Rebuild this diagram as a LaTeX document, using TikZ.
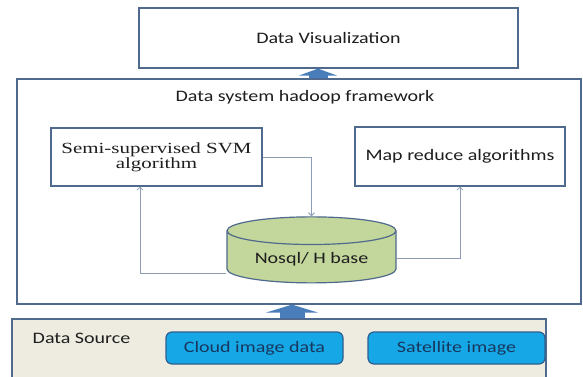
\documentclass[tikz,border=0pt]{standalone}
\usepackage{fontspec}
\newfontfamily\calib[FakeStretch=1.25]{Carlito}
\newfontfamily\serifb[FakeStretch=1.35]{Liberation Serif}
\usepackage{tikz}
\usetikzlibrary{shapes, arrows.meta, positioning, calc}
\definecolor{boxline}{RGB}{79,106,141}
\definecolor{linkgray}{RGB}{140,156,180}
\definecolor{arrowblue}{RGB}{74,126,187}
\definecolor{dbgreen}{RGB}{195,214,155}
\definecolor{srcfill}{RGB}{238,236,225}
\definecolor{pillblue}{RGB}{22,168,230}
\definecolor{pillline}{RGB}{46,94,142}
\definecolor{navytext}{RGB}{23,55,94}
\definecolor{txtdark}{RGB}{30,30,30}
\tikzstyle{box} = [rectangle, draw=boxline, line width=1.2pt, fill=white, text=txtdark, font=\calib\fontsize{16}{19}\selectfont]
\tikzstyle{algbox} = [rectangle, draw=boxline, line width=1.2pt, fill=white, text=txtdark, align=center, font=\serifb\fontsize{15.5}{12.5}\selectfont]
\tikzstyle{plain} = [text=txtdark, inner sep=0pt, font=\calib\fontsize{16}{19}\selectfont]
\tikzstyle{db} = [cylinder, shape border rotate=90, aspect=0.23, draw=boxline, line width=1.2pt, fill=dbgreen, text=txtdark, font=\calib\fontsize{16}{19}\selectfont]
\tikzstyle{pill} = [rectangle, rounded corners=6pt, draw=pillline, line width=1.2pt, fill=pillblue, text=navytext, minimum width=177pt, minimum height=32pt, font=\calib\fontsize{16}{19}\selectfont]
\tikzstyle{link} = [draw=linkgray, line width=0.8pt, -{Straight Barb[length=3pt,width=6pt]}]
\tikzstyle{bigarrow} = [draw=arrowblue, -{Triangle[length=7pt,width=38pt]}]

\begin{document}
\begin{tikzpicture}[x=1pt, y=-1pt]
\useasboundingbox (0,0) rectangle (583,377);
% layers from top to bottom
\node (vis) [box, minimum width=379pt, minimum height=60pt] at (328.5,38) {Data Visualization};
\node (hadoop) [box, minimum width=564pt, minimum height=225pt] at (299,191.5) {};
\node (hadooplabel) [plain] at (305,97) {Data system hadoop framework};
\node (svm) [algbox, minimum width=211pt, minimum height=58pt] at (156.5,157) {Semi-supervised SVM\\algorithm};
\node (mapred) [box, minimum width=210pt, minimum height=59pt] at (460,156.5) {Map reduce algorithms};
\node (hbase) [db, minimum width=169pt, minimum height=66pt] at (311.5,259) {Nosql/ H base};
\node (source) [rectangle, draw=boxline, line width=1.2pt, fill=srcfill, minimum width=534pt, minimum height=62pt] at (279,350) {};
\node (sourcelabel) [plain] at (81.5,338) {Data Source};
\node (cloud) [pill] at (254.5,348) {Cloud image data};
\node (sat) [pill] at (456.5,348) {Satellite image};

% links inside the framework
\draw[link] (svm.east) -| (hbase.north);
\draw[link] ([yshift=-14pt]hbase.west) -| ([xshift=-16.5pt]svm.south);
\draw[link] ([yshift=1pt]hbase.east) -| (mapred.south);

% block arrows between layers
\coordinate (upa) at (318,0);
\coordinate (upb) at (292,0);
\draw[bigarrow, line width=19pt] (hadoop.north -| upa) -- (vis.south -| upa);
\draw[bigarrow, line width=25pt, -{Triangle[length=8pt,width=52pt]}] (source.north -| upb) -- (hadoop.south -| upb);
\end{tikzpicture}
\end{document}
